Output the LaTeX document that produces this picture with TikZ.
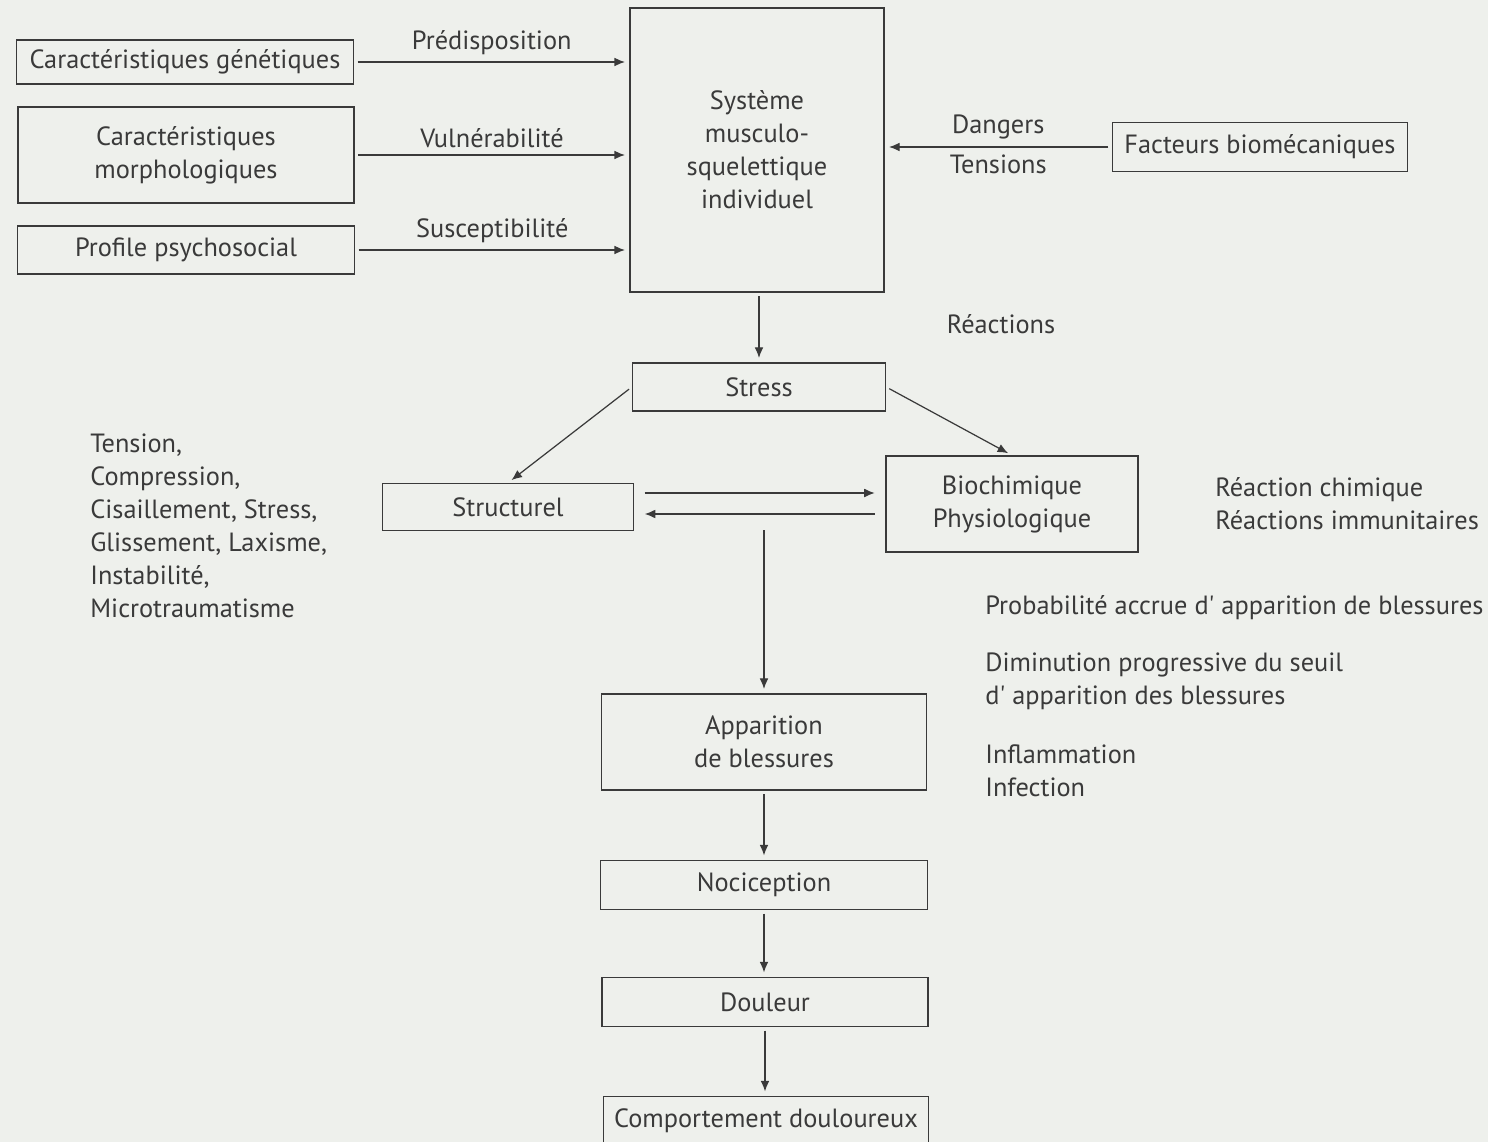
\documentclass[tikz,border=0pt]{standalone}
\usepackage{fontspec}
\setmainfont{PT Sans}
\usetikzlibrary{arrows.meta}

\definecolor{paper}{HTML}{EEF0EC}
\definecolor{ink}{HTML}{3A3A3A}

\tikzset{
  box/.style={draw=ink, line width=0.8pt, align=center, inner sep=0pt, text=ink},
  lbl/.style={text=ink, inner sep=0pt},
  txt/.style={text=ink, inner sep=0pt, anchor=west, align=left},
  flow/.style={draw=ink, line width=0.7pt, shorten <=2pt, shorten >=2.5pt,
    -{Latex[length=6pt,width=5pt]}},
}

\begin{document}
\begin{tikzpicture}[x=0.02cm, y=-0.02cm, font=\fontsize{15pt}{18.8pt}\selectfont]
\fill[paper] (0,0) rectangle (1488,1142);
\useasboundingbox (0,0) rectangle (1488,1142);

% causes
\node[box, minimum width=6.74cm, minimum height=0.88cm] (gen) at (185,62) {Caractéristiques génétiques};
\node[box, minimum width=6.72cm, minimum height=1.92cm] (morph) at (186,155) {Caractéristiques\\morphologiques};
\node[box, minimum width=6.74cm, minimum height=0.96cm] (psycho) at (186,250) {Profile psychosocial};
\node[box, minimum width=5.08cm, minimum height=5.68cm] (sys) at (757,150) {Système\\musculo-\\squelettique\\individuel};
\node[box, minimum width=5.9cm, minimum height=0.98cm] (facteurs) at (1260,147) {Facteurs biomécaniques};

\draw[flow] (gen.east) -- (gen.east -| sys.west) node[lbl, midway, above=4pt] (predis) {Prédisposition};
\draw[flow] (morph.east) -- (morph.east -| sys.west) node[lbl, midway, above=4pt] (vuln) {Vulnérabilité};
\draw[flow] (psycho.east) -- (psycho.east -| sys.west) node[lbl, midway, above=4pt] (suscep) {Susceptibilité};
\draw[flow] (facteurs.west) -- (facteurs.west -| sys.east)
  node[lbl, midway, above=4pt] (dangers) {Dangers}
  node[lbl, midway, below=4pt] (tensions) {Tensions};

% reactions
\node[box, minimum width=5.06cm, minimum height=0.96cm] (stress) at (759,387) {Stress};
\node[lbl] (reactions) at (1001,324) {Réactions};
\node[box, minimum width=5.02cm, minimum height=0.94cm] (structurel) at (508,507) {Structurel};
\node[box, minimum width=5.04cm, minimum height=1.92cm] (biochim) at (1012,504) {Biochimique\\Physiologique};

\draw[flow] (stress.north |- sys.south) -- (stress.north);
\draw[flow] (stress.west) -- (structurel.north);
\draw[flow] (stress.east) -- (biochim.north);
\draw[flow, shorten <=6pt, shorten >=6pt] ([yshift=0.28cm]structurel.east) -- ([yshift=0.28cm]structurel.east -| biochim.west);
\draw[flow, shorten <=6pt, shorten >=6pt] ([yshift=-0.2cm]biochim.west) -- ([yshift=-0.2cm]biochim.west -| structurel.east);

\node[txt] (types) at (90,526) {Tension,\\Compression,\\Cisaillement, Stress,\\Glissement, Laxisme,\\Instabilité,\\Microtraumatisme};
\node[txt] (chimie) at (1215,504) {Réaction chimique\\Réactions immunitaires};
\node[txt] (proba) at (985,608) {Probabilité accrue d\textquotesingle{} apparition de blessures};
\node[txt] (seuil) at (985,681) {Diminution progressive du seuil\\d\textquotesingle{} apparition des blessures};
\node[txt] (inflam) at (985,771) {Inflammation\\Infection};

% consequences
\coordinate (split) at (764,530);
\node[box, minimum width=6.5cm, minimum height=1.92cm] (apparition) at (764,742) {Apparition\\de blessures};
\node[box, minimum width=6.54cm, minimum height=0.98cm] (nociception) at (764,885) {Nociception};
\node[box, minimum width=6.52cm, minimum height=0.98cm] (douleur) at (765,1002) {Douleur};
\node[box, minimum width=6.5cm, minimum height=0.98cm] (comport) at (766,1121) {Comportement douloureux};

\draw[flow, shorten <=0pt] (split) -- (split |- apparition.north);
\draw[flow] (apparition.south) -- (apparition.south |- nociception.north);
\draw[flow] (nociception.south) -- (nociception.south |- douleur.north);
\draw[flow] (douleur.south) -- (douleur.south |- comport.north);
\end{tikzpicture}
\end{document}
